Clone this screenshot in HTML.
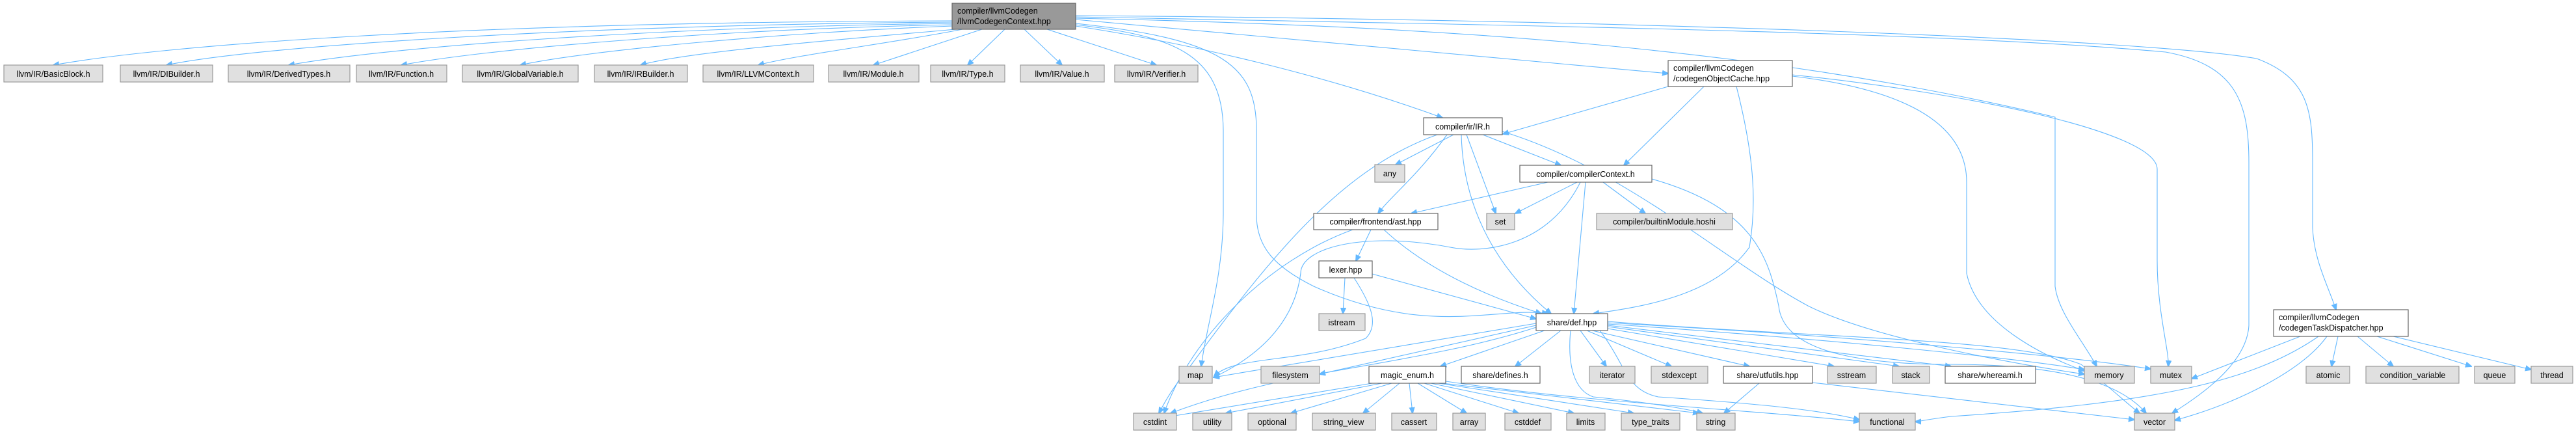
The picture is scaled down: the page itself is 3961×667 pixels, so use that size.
<!DOCTYPE html>
<html><head><meta charset="utf-8"><style>
html,body{margin:0;padding:0;background:#fff;}
svg{display:block;}
text{font-family:"Liberation Sans",sans-serif;font-size:12.5px;fill:#000;}
.g{fill:#e0e0e0;stroke:#999;stroke-width:1.2;}
.w{fill:#fff;stroke:#666;stroke-width:1.2;}
.r{fill:#999;stroke:#666;stroke-width:1.2;}
path{fill:none;stroke:#63b8ff;stroke-width:1.1;}
</style></head><body>
<svg width="3961" height="667" viewBox="0 0 3961 667" xmlns="http://www.w3.org/2000/svg">
<defs><marker id="a" markerWidth="10" markerHeight="10" refX="9" refY="5" orient="auto" markerUnits="userSpaceOnUse"><path d="M0,1 L10,5 L0,9 Z" style="fill:#63b8ff;stroke:#63b8ff"/></marker></defs>
<g marker-end="url(#a)">
<!-- root to llvm row -->
<path d="M1464,32 C700,34 250,70 82,100"/>
<path d="M1464,34 C900,38 400,70 256,100"/>
<path d="M1464,36 C1000,42 600,72 444,100"/>
<path d="M1464,38 C1100,45 750,75 617,100"/>
<path d="M1464,40 C1200,50 900,78 800,100"/>
<path d="M1470,45 C1300,60 1050,80 985,100"/>
<path d="M1480,45 C1380,65 1220,85 1166,100"/>
<path d="M1510,45 L1343,100"/>
<path d="M1545,45 L1488,100"/>
<path d="M1575,45 L1633,100"/>
<path d="M1610,45 L1778,100"/>
<!-- root to others -->
<path d="M1654,30 L2565,113"/>
<path d="M1654,40 C1850,70 2050,120 2218,181"/>
<path d="M1654,38 C1800,55 1880,80 1881,200 L1881,330 C1880,430 1855,500 1847,563"/>
<path d="M1654,36 C1880,60 1932,100 1932,200 L1932,330 C1932,380 1960,410 2020,440 C2200,520 2300,470 2380,482"/>
<path d="M1654,28 C2200,40 2700,70 3160,180 C3160,300 3160,420 3160,440 C3165,480 3200,520 3224,563"/>
<path d="M1654,26 C2400,40 3000,50 3330,80 C3440,100 3458,160 3458,250 L3458,500 C3455,560 3380,610 3340,635"/>
<path d="M1654,24 C2500,30 3300,60 3470,90 C3550,120 3556,170 3556,250 L3556,350 C3558,400 3580,440 3592,476"/>
<!-- codegenObjectCache -->
<path d="M2565,133 L2311,206"/>
<path d="M2620,133 L2497,254"/>
<path d="M2670,133 C2700,250 2700,320 2690,380 C2640,450 2540,470 2450,482"/>
<path d="M2756,117 C2950,140 3024,200 3024,280 L3024,420 C3040,500 3150,550 3205,570"/>
<path d="M2756,115 C3000,140 3317,200 3317,260 L3317,400 C3317,480 3336,540 3334,563"/>
<!-- IR.h -->
<path d="M2235,207 L2146,253"/>
<path d="M2225,207 C2180,270 2140,300 2119,328"/>
<path d="M2255,207 L2300,328"/>
<path d="M2280,207 L2400,254"/>
<path d="M2247,207 C2250,330 2310,420 2385,482"/>
<path d="M2210,207 C2060,260 1950,400 1830,563 C1800,600 1790,620 1782,635"/>
<path d="M2310,202 C2500,260 2650,400 2780,470 C2880,520 3100,560 3205,575"/>
<!-- compilerContext -->
<path d="M2380,280 L2170,328"/>
<path d="M2425,280 L2330,328"/>
<path d="M2465,280 L2530,328"/>
<path d="M2438,280 L2420,482"/>
<path d="M2430,280 C2380,380 2280,390 2230,380 C2100,355 2000,380 2000,420 C1990,500 1930,550 1866,580"/>
<path d="M2540,275 C2700,320 2720,400 2735,470 C2740,520 2800,560 3000,560 C3200,560 3270,600 3300,635"/>
<!-- ast -->
<path d="M2108,353 L2085,401"/>
<path d="M2128,353 C2200,420 2300,460 2370,482"/>
<path d="M2080,353 C1950,400 1830,520 1790,635"/>
<!-- lexer -->
<path d="M2068,427 L2065,482"/>
<path d="M2110,421 L2362,490"/>
<path d="M2082,427 C2110,470 2120,500 2100,520 C2000,560 1900,545 1867,578"/>
<!-- def.hpp -->
<path d="M2362,497 L1866,580"/>
<path d="M2362,500 L2029,575"/>
<path d="M2375,508 L2215,563"/>
<path d="M2400,508 L2330,563"/>
<path d="M2430,508 L2470,563"/>
<path d="M2440,508 L2570,563"/>
<path d="M2448,508 L2690,563"/>
<path d="M2472,505 L2820,563"/>
<path d="M2472,502 L2920,563"/>
<path d="M2472,500 L3000,563"/>
<path d="M2472,498 C2800,520 3100,550 3205,568"/>
<path d="M2472,496 C2900,520 3200,550 3307,567"/>
<path d="M2362,503 C2250,540 2100,560 2000,580 C1900,600 1840,620 1800,635"/>
<path d="M2415,508 C2410,560 2420,600 2450,610 C2550,620 2600,630 2618,635"/>
<path d="M2460,508 C2500,560 2500,600 2550,610 C2700,620 2800,630 2859,645"/>
<path d="M2472,494 C2800,520 3100,520 3200,560 C3250,600 3270,620 3290,635"/>
<!-- magic_enum -->
<path d="M2110,589 L1800,640"/>
<path d="M2125,589 L1885,635"/>
<path d="M2140,589 L1985,635"/>
<path d="M2152,589 L2096,635"/>
<path d="M2167,589 L2172,635"/>
<path d="M2180,589 L2255,635"/>
<path d="M2190,589 L2335,635"/>
<path d="M2200,589 L2420,635"/>
<path d="M2212,589 L2512,635"/>
<path d="M2218,589 L2612,635"/>
<path d="M2223,586 C2450,620 2700,630 2859,648"/>
<!-- utfutils -->
<path d="M2705,589 L2651,635"/>
<path d="M2787,588 L3282,645"/>
<!-- dispatcher -->
<path d="M3537,517 L3370,582"/>
<path d="M3595,517 L3585,563"/>
<path d="M3625,517 L3680,563"/>
<path d="M3655,517 L3800,563"/>
<path d="M3680,517 L3892,568"/>
<path d="M3578,517 C3540,570 3440,620 3344,646"/>
<path d="M3565,517 C3460,590 3300,620 3000,640 C2960,645 2950,648 2945,648"/>
</g>
<!-- nodes -->
<rect class="r" x="1464" y="5" width="190" height="40"/>
<text x="1472" y="21">compiler/llvmCodegen</text><text x="1472" y="37">/llvmCodegenContext.hpp</text>
<g text-anchor="middle">
<rect class="g" x="6" y="100" width="152" height="26"/><text x="82" y="118">llvm/IR/BasicBlock.h</text>
<rect class="g" x="185" y="100" width="142" height="26"/><text x="256" y="118">llvm/IR/DIBuilder.h</text>
<rect class="g" x="351" y="100" width="187" height="26"/><text x="444" y="118">llvm/IR/DerivedTypes.h</text>
<rect class="g" x="548" y="100" width="139" height="26"/><text x="617" y="118">llvm/IR/Function.h</text>
<rect class="g" x="711" y="100" width="178" height="26"/><text x="800" y="118">llvm/IR/GlobalVariable.h</text>
<rect class="g" x="914" y="100" width="143" height="26"/><text x="985" y="118">llvm/IR/IRBuilder.h</text>
<rect class="g" x="1081" y="100" width="170" height="26"/><text x="1166" y="118">llvm/IR/LLVMContext.h</text>
<rect class="g" x="1274" y="100" width="139" height="26"/><text x="1343" y="118">llvm/IR/Module.h</text>
<rect class="g" x="1431" y="100" width="114" height="26"/><text x="1488" y="118">llvm/IR/Type.h</text>
<rect class="g" x="1569" y="100" width="129" height="26"/><text x="1633" y="118">llvm/IR/Value.h</text>
<rect class="g" x="1714" y="100" width="128" height="26"/><text x="1778" y="118">llvm/IR/Verifier.h</text>
<rect class="w" x="2189" y="181" width="121" height="26"/><text x="2249" y="199">compiler/ir/IR.h</text>
<rect class="g" x="2114" y="253" width="46" height="27"/><text x="2137" y="271">any</text>
<rect class="w" x="2337" y="254" width="203" height="26"/><text x="2438" y="272">compiler/compilerContext.h</text>
<rect class="w" x="2020" y="328" width="191" height="25"/><text x="2115" y="345">compiler/frontend/ast.hpp</text>
<rect class="g" x="2286" y="328" width="43" height="25"/><text x="2307" y="345">set</text>
<rect class="g" x="2455" y="328" width="209" height="25"/><text x="2559" y="345">compiler/builtinModule.hoshi</text>
<rect class="w" x="2028" y="401" width="82" height="26"/><text x="2069" y="419">lexer.hpp</text>
<rect class="g" x="2028" y="482" width="71" height="26"/><text x="2063" y="500">istream</text>
<rect class="w" x="2362" y="482" width="110" height="26"/><text x="2417" y="500">share/def.hpp</text>
<rect class="g" x="1813" y="563" width="51" height="26"/><text x="1838" y="581">map</text>
<rect class="g" x="1939" y="563" width="90" height="26"/><text x="1984" y="581">filesystem</text>
<rect class="w" x="2105" y="563" width="118" height="26"/><text x="2164" y="581">magic_enum.h</text>
<rect class="w" x="2247" y="563" width="121" height="26"/><text x="2307" y="581">share/defines.h</text>
<rect class="g" x="2444" y="563" width="70" height="26"/><text x="2479" y="581">iterator</text>
<rect class="g" x="2539" y="563" width="87" height="26"/><text x="2582" y="581">stdexcept</text>
<rect class="w" x="2650" y="563" width="137" height="26"/><text x="2718" y="581">share/utfutils.hpp</text>
<rect class="g" x="2810" y="563" width="75" height="26"/><text x="2847" y="581">sstream</text>
<rect class="g" x="2910" y="563" width="57" height="26"/><text x="2938" y="581">stack</text>
<rect class="w" x="2991" y="563" width="139" height="26"/><text x="3060" y="581">share/whereami.h</text>
<rect class="g" x="3205" y="563" width="77" height="26"/><text x="3243" y="581">memory</text>
<rect class="g" x="3307" y="563" width="63" height="26"/><text x="3338" y="581">mutex</text>
<rect class="g" x="3546" y="563" width="67" height="26"/><text x="3580" y="581">atomic</text>
<rect class="g" x="3638" y="563" width="143" height="26"/><text x="3710" y="581">condition_variable</text>
<rect class="g" x="3805" y="563" width="62" height="26"/><text x="3836" y="581">queue</text>
<rect class="g" x="3892" y="563" width="64" height="26"/><text x="3924" y="581">thread</text>
<rect class="g" x="1743" y="635" width="66" height="26"/><text x="1776" y="653">cstdint</text>
<rect class="g" x="1834" y="635" width="60" height="26"/><text x="1864" y="653">utility</text>
<rect class="g" x="1919" y="635" width="74" height="26"/><text x="1956" y="653">optional</text>
<rect class="g" x="2018" y="635" width="97" height="26"/><text x="2066" y="653">string_view</text>
<rect class="g" x="2140" y="635" width="69" height="26"/><text x="2174" y="653">cassert</text>
<rect class="g" x="2234" y="635" width="50" height="26"/><text x="2259" y="653">array</text>
<rect class="g" x="2314" y="635" width="71" height="26"/><text x="2349" y="653">cstddef</text>
<rect class="g" x="2409" y="635" width="59" height="26"/><text x="2438" y="653">limits</text>
<rect class="g" x="2493" y="635" width="90" height="26"/><text x="2538" y="653">type_traits</text>
<rect class="g" x="2609" y="635" width="59" height="26"/><text x="2638" y="653">string</text>
<rect class="g" x="2859" y="635" width="86" height="26"/><text x="2902" y="653">functional</text>
<rect class="g" x="3282" y="635" width="62" height="26"/><text x="3313" y="653">vector</text>
</g>
<rect class="w" x="2565" y="93" width="191" height="40"/>
<text x="2573" y="109">compiler/llvmCodegen</text><text x="2573" y="125">/codegenObjectCache.hpp</text>
<rect class="w" x="3496" y="476" width="207" height="41"/>
<text x="3504" y="492">compiler/llvmCodegen</text><text x="3504" y="508">/codegenTaskDispatcher.hpp</text>
</svg>
</body></html>
